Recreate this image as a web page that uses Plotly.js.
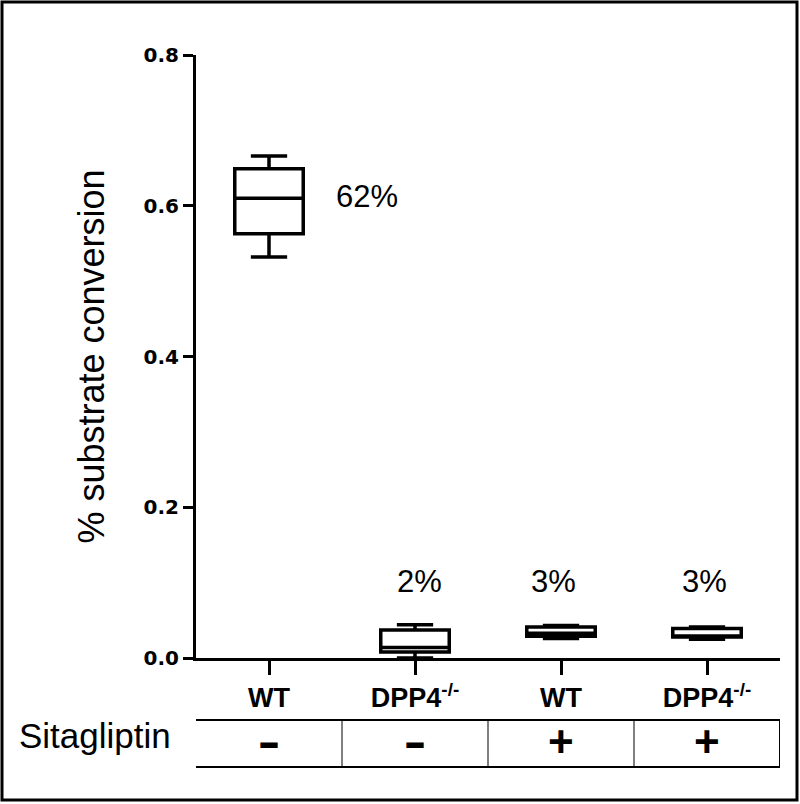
<!DOCTYPE html>
<html>
<head>
<meta charset="utf-8">
<script src="https://cdn.plot.ly/plotly-3.0.1.min.js"></script>
<style>
  html, body { margin: 0; padding: 0; background: #fff; }
  #chart { width: 800px; height: 804px; }
</style>
</head>
<body>
<div id="chart"></div>
<script>
// ---- data ----
var groupLabels = ['WT', 'DPP4<sup>-/-</sup>', 'WT', 'DPP4<sup>-/-</sup>'];
var sitagliptin = ['–', '–', '+', '+'];
var lowerFence = [0.532, 0.000, 0.026, 0.025];
var q1Values   = [0.563, 0.008, 0.029, 0.028];
var medians    = [0.610, 0.014, 0.033, 0.029];
var q3Values   = [0.649, 0.037, 0.041, 0.039];
var upperFence = [0.666, 0.044, 0.043, 0.041];
var pctLabels  = ['62%', '2%', '3%', '3%'];
var yTicks = [0, 0.2, 0.4, 0.6, 0.8];

var positions = groupLabels.map(function (_, i) { return i; });

var trace = {
  type: 'box',
  x: positions,
  lowerfence: lowerFence,
  q1: q1Values,
  median: medians,
  q3: q3Values,
  upperfence: upperFence,
  fillcolor: '#ffffff',
  line: { color: '#000000', width: 3.5 },
  whiskerwidth: 0.53,
  boxpoints: false,
  hoverinfo: 'skip',
  showlegend: false
};

var txtFont = 'Liberation Sans, Arial, sans-serif';

// annotations: percentages above boxes
var annotations = [
  { x: 0.67, y: 0.612, xref: 'x', yref: 'y', text: pctLabels[0], showarrow: false,
    xanchor: 'center', yanchor: 'middle', font: { family: txtFont, size: 31, color: '#000' } },
  { x: 1.03, y: 0.101, xref: 'x', yref: 'y', text: pctLabels[1], showarrow: false,
    xanchor: 'center', yanchor: 'middle', font: { family: txtFont, size: 31, color: '#000' } },
  { x: 1.95, y: 0.101, xref: 'x', yref: 'y', text: pctLabels[2], showarrow: false,
    xanchor: 'center', yanchor: 'middle', font: { family: txtFont, size: 31, color: '#000' } },
  { x: 2.98, y: 0.101, xref: 'x', yref: 'y', text: pctLabels[3], showarrow: false,
    xanchor: 'center', yanchor: 'middle', font: { family: txtFont, size: 31, color: '#000' } },
  { x: -0.3065, y: -0.129, xref: 'paper', yref: 'paper', text: 'Sitagliptin', showarrow: false,
    xanchor: 'left', yanchor: 'middle', font: { family: txtFont, size: 35, color: '#000' } }
];
sitagliptin.forEach(function (s, i) {
  var minus = s !== '+';
  annotations.push({
    x: positions[i], y: minus ? -0.139 : -0.139, xref: 'x', yref: 'paper',
    text: '<b>' + s + '</b>', showarrow: false, xanchor: 'center', yanchor: 'middle',
    font: { family: minus ? 'DejaVu Sans, sans-serif' : txtFont, size: minus ? 44 : 44, color: '#000' }
  });
});

// table shapes
var shapes = [
  { type: 'rect', xref: 'x', yref: 'paper', x0: -0.52, x1: 3.5, y0: -0.1808, y1: -0.1028,
    line: { color: '#000', width: 2 }, fillcolor: 'rgba(0,0,0,0)' }
];
[0.5, 1.5, 2.5].forEach(function (xv) {
  shapes.push({ type: 'line', xref: 'x', yref: 'paper', x0: xv, x1: xv, y0: -0.1808, y1: -0.1028,
    line: { color: '#000', width: 1 } });
});
// outer frame
shapes.push({ type: 'rect', xref: 'paper', yref: 'paper',
  x0: -0.3322, x1: 1.0291, y0: -0.2355, y1: 1.0879,
  line: { color: '#000', width: 3 }, fillcolor: 'rgba(0,0,0,0)' });

var layout = {
  width: 800,
  height: 804,
  margin: { l: 196, r: 20, t: 55, b: 146 },
  paper_bgcolor: '#ffffff',
  plot_bgcolor: '#ffffff',
  showlegend: false,
  boxgap: 0.33,
  xaxis: {
    range: [-0.5, 3.5],
    tickmode: 'array',
    tickvals: positions,
    ticktext: groupLabels.map(function (t) { return '<b>' + t + '</b>'; }),
    showline: true, linecolor: '#000', linewidth: 3,
    ticks: 'outside', ticklen: 14, tickwidth: 3, tickcolor: '#000',
    showgrid: false, zeroline: false,
    tickfont: { family: txtFont, size: 27, color: '#000' },
    fixedrange: true
  },
  yaxis: {
    range: [0, 0.8],
    tickmode: 'array',
    tickvals: yTicks,
    tickformat: '.1f',
    showline: true, linecolor: '#000', linewidth: 3,
    ticks: 'outside', ticklen: 10, tickwidth: 3, tickcolor: '#000',
    showgrid: false, zeroline: false,
    tickfont: { family: 'DejaVu Sans, sans-serif', size: 20, color: '#000', weight: 'bold' },
    automargin: true,
    title: { text: '% substrate conversion', standoff: 28,
             font: { family: txtFont, size: 36, color: '#000' } },
    fixedrange: true
  },
  annotations: annotations,
  shapes: shapes
};

Plotly.newPlot('chart', [trace], layout, { displayModeBar: false, staticPlot: true });
</script>
</body>
</html>
